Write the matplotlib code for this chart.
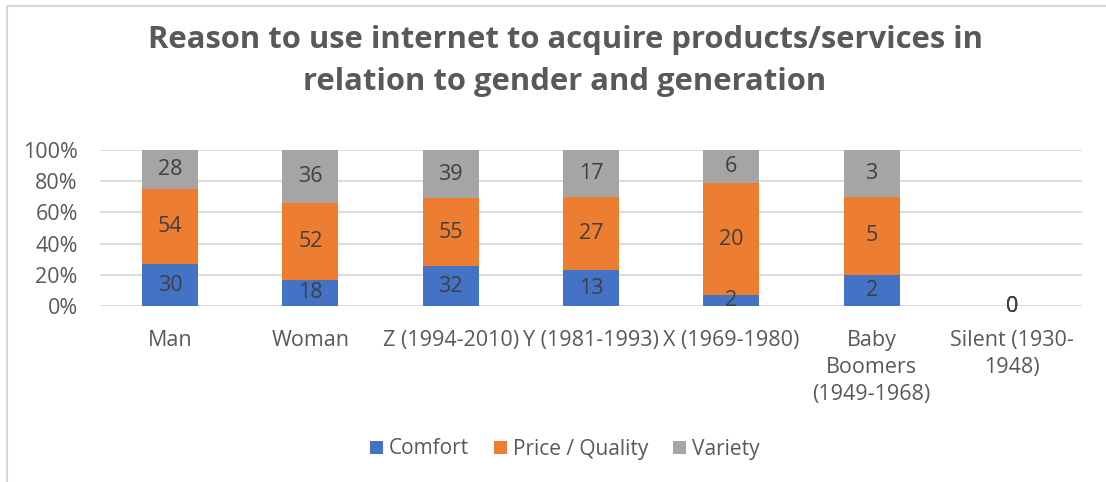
import numpy as np
import matplotlib
matplotlib.use("Agg")
import matplotlib.pyplot as plt
from matplotlib.lines import Line2D

plt.rcParams['font.family'] = ['Open Sans', 'DejaVu Sans']

# データ
categories = ["Man", "Woman", "Z (1994-2010)", "Y (1981-1993)", "X (1969-1980)",
              "Baby\nBoomers\n(1949-1968)", "Silent (1930-\n1948)"]
series_names = ["Comfort", "Price / Quality", "Variety"]
comfort = [30, 18, 32, 13, 2, 2, 0]
price_quality = [54, 52, 55, 27, 20, 5, 0]
variety = [28, 36, 39, 17, 6, 3, 0]
colors = ["#4472c4", "#ed7d31", "#a5a5a5"]

title = "Reason to use internet to acquire products/services in\nrelation to gender and generation"

fig = plt.figure(figsize=(11.06, 4.82), dpi=100)
ax = fig.add_axes((100 / 1106, 1 - 306 / 482, 982 / 1106, 156 / 482))

vals = np.array([comfort, price_quality, variety], dtype=float)
tot = vals.sum(axis=0)
pct = np.divide(vals * 100.0, tot, out=np.zeros_like(vals), where=tot > 0)

x = np.arange(len(categories))
bottom = np.zeros(len(categories))
for name, raw, p, c in zip(series_names, vals, pct, colors):
    ax.bar(x, p, 0.4, bottom=bottom, color=c, label=name, zorder=2)
    # 値ラベル
    for xi, b, h, v in zip(x, bottom, p, raw):
        ax.text(xi, b + h / 2, "%d" % v, ha="center", va="center",
                fontsize=15.5, color="#404040", zorder=3)
    bottom = bottom + p

ax.set_xlim(-0.5, len(categories) - 0.5)
ax.set_ylim(0, 100)
ax.set_yticks(np.arange(0, 101, 20))
ax.set_yticklabels(["%d%%" % v for v in range(0, 101, 20)])
ax.set_xticks(x)
ax.set_xticklabels(categories)
ax.tick_params(axis="y", length=0, pad=16, labelsize=15.5, labelcolor="#595959")
ax.tick_params(axis="x", length=0, pad=17, labelsize=15.5, labelcolor="#595959")
for lab in ax.get_xticklabels():
    lab.set_linespacing(1.4)
ax.grid(axis="y", color="#d9d9d9", linewidth=1.3, zorder=0)
for s in ax.spines.values():
    s.set_visible(False)

fig.text(565 / 1106, 1 - 61 / 482, title, ha="center", va="center",
         fontsize=22.3, fontweight="bold", color="#595959", linespacing=1.5)

fig.legend(loc="center", bbox_to_anchor=(565 / 1106, 1 - 449 / 482), ncol=3,
           frameon=False, fontsize=15, labelcolor="#595959",
           handlelength=0.6, handleheight=0.6, handletextpad=0.3,
           columnspacing=1.2)

# 枠線
fig.add_artist(Line2D([6.5 / 1106, 6.5 / 1106], [0, 1 - 5.5 / 482],
                      color="#d9d9d9", linewidth=1.5))
fig.add_artist(Line2D([6.5 / 1106, 1], [1 - 5.5 / 482, 1 - 5.5 / 482],
                      color="#d9d9d9", linewidth=1.5))

plt.savefig("out.png", dpi=100)
plt.close()
